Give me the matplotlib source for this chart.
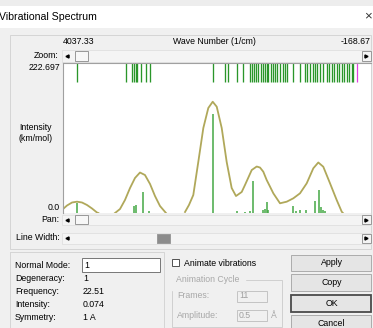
import matplotlib
matplotlib.use('Agg')
import matplotlib.pyplot as plt
from matplotlib.patches import Rectangle
import numpy as np

plt.rcParams['font.family'] = ['Liberation Sans', 'DejaVu Sans']

# spectrum window range
wn_left = 4037.33
wn_right = -168.67
int_max = 222.697

# all mode frequencies shown in the top tick band (1/cm)
mode_wn = [3850, 3181, 3091, 3068, 3045, 3031, 2972, 2908, 2849, 1993,
           1825, 1780, 1665, 1575, 1484, 1461, 1429, 1402, 1370, 1338,
           1310, 1279, 1256, 1234, 1201, 1174, 1142, 1111, 1074, 1037,
           1006, 983, 893, 801, 733, 701, 665, 628, 596, 565, 528, 491,
           437, 401, 368, 337, 300, 264, 232, 200, 163, 128, 95, 73]
selected_wn = 22.51

# stick spectrum (1/cm, km/mol)
stick_wn = [3842, 3068, 3047, 2941, 2859, 1993, 1657, 1552, 1484, 1447,
            1302, 1279, 1256, 1234, 892, 856, 801, 719, 596, 537, 514,
            483, 453]
stick_int = [15.5, 11.0, 12.0, 31.6, 3.0, 146.5, 3.0, 2.0, 3.0, 47.5,
             4.0, 6.0, 16.8, 4.0, 10.4, 3.0, 4.0, 4.0, 18.3, 34.1, 9.4,
             5.0, 3.0]

# broadened curve, nan marks where it drops under the baseline
curve_wn = [4037, 3983, 3914, 3846, 3778, 3710, 3641, 3573, 3555, np.nan,
            3327, 3259, 3191, 3122, 3054, 2986, 2918, 2849, 2781, 2713, 2631, np.nan,
            2371, 2317, 2258, 2190, 2121, 2053, 1993, 1938, 1870, 1802,
            1734, 1675, 1597, 1552, 1460, 1392, 1347, 1302, 1256, 1211,
            1165, 1074, 982, 892, 801, 709, 619, 551, 483, 391, 300, 231, 215]
curve_int = [5.9, 11.1, 15.6, 16.8, 15.6, 11.9, 6.7, 0.7, 0.0, np.nan,
             0.0, 5.9, 19.3, 37.1, 52.0, 60.1, 56.4, 43.1, 25.2, 10.4, 0.0, np.nan,
             1.5, 11.9, 26.7, 75.7, 126.2, 155.9, 165.2, 157.8, 126.2, 75.7,
             37.1, 25.2, 31.2, 41.6, 63.8, 69.0, 67.5, 61.3, 49.0, 39.3,
             29.2, 14.4, 16.8, 21.8, 29.2, 44.1, 66.4, 75.0, 68.7, 44.1, 19.3, 1.9, 0.0]

# dialog fields
info_labels = ['Normal Mode:', 'Degeneracy:', 'Frequency:', 'Intensity:', 'Symmetry:']
info_values = ['1', '1', '22.51', '0.074', '1 A']
buttons = ['Apply', 'Copy', 'OK', 'Cancel']

W, H = 373, 328
BG = '#f0f0f0'
FS = 6.3

fig = plt.figure(figsize=(W / 100, H / 100), dpi=100, facecolor=BG)
gui = fig.add_axes([0, 0, 1, 1])
gui.set_xlim(0, W)
gui.set_ylim(H, 0)
gui.axis('off')


def rect(x0, y0, x1, y1, fc='none', ec='none', lw=0.72, z=1):
    gui.add_patch(Rectangle((x0, y0), x1 - x0, y1 - y0, facecolor=fc,
                            edgecolor=ec, lw=lw, zorder=z))


def scrollbar(y0, y1, t0, t1, thumb_fc):
    rect(62, y0, 371, y1, fc='#f4f4f4', ec='#e2e2e2')
    gui.plot([66.5], [(y0 + y1) / 2], marker='<', ms=2.2, color='black', zorder=3)
    rect(t0, y0 + 0.5, t1, y1 - 0.5, fc=thumb_fc, ec='#9a9a9a', z=2)
    rect(362, y0 + 0.5, 370.5, y1 - 0.5, fc='#f4f4f4', ec='#9a9a9a', z=2)
    gui.plot([366], [(y0 + y1) / 2], marker='>', ms=2.2, color='black', zorder=3)


# title bar
rect(0, 0, W, 6, fc='#ededed')
rect(0, 6, W, 28, fc='white')
gui.text(-1, 17, 'Vibrational Spectrum', fontsize=7.6, va='center', ha='left')
gui.text(368, 16.5, '\u00d7', fontsize=9.5, va='center', ha='center', color='#333333')

# upper group
rect(10, 35, 371, 248.5, ec='#d5d5d5')
gui.text(62.5, 41, '4037.33', fontsize=FS, va='center', ha='left')
gui.text(214, 41, 'Wave Number (1/cm)', fontsize=FS, va='center', ha='center')
gui.text(371, 41, '-168.67', fontsize=FS, va='center', ha='right')
gui.text(59, 55.5, 'Zoom:', fontsize=FS, va='center', ha='right')
scrollbar(50, 61.5, 75, 88, '#f7f7f7')
gui.text(60, 67, '222.697', fontsize=FS, va='center', ha='right')
gui.text(36, 133, 'Intensity\n(km/mol)', fontsize=FS, va='center', ha='center',
         linespacing=1.25)
gui.text(60, 207, '0.0', fontsize=FS, va='center', ha='right')
gui.text(59, 219.5, 'Pan:', fontsize=FS, va='center', ha='right')
scrollbar(214.5, 224.5, 75, 88, '#f7f7f7')
gui.text(60, 238, 'Line Width:', fontsize=FS, va='center', ha='right')
scrollbar(233, 243.5, 157, 170, '#8c8c8c')

# lower left group
rect(10, 252, 163.5, 331, ec='#d5d5d5')
rect(82, 258, 160, 272, fc='white', ec='#7a7a7a')
for i, (lab, val) in enumerate(zip(info_labels, info_values)):
    y = 265.5 + i * 13.1
    gui.text(15, y, lab, fontsize=FS, va='center', ha='left')
    gui.text(84 if i == 0 else 83, y, val, fontsize=FS, va='center', ha='left')

# animation controls
rect(171.5, 259, 178.5, 266, fc='white', ec='#555555')
gui.text(184, 263.5, 'Animate vibrations', fontsize=FS, va='center', ha='left')
rect(172, 279.5, 282, 327, ec='#d0d0d0')
gui.text(176, 279.5, 'Animation Cycle', fontsize=FS, va='center', ha='left',
         color='#a8a8a8', backgroundcolor=BG)
gui.text(177, 296, 'Frames:', fontsize=FS, va='center', ha='left', color='#a8a8a8')
rect(237, 291, 267, 302, fc=BG, ec='#c4c4c4')
gui.text(239, 296, '11', fontsize=FS, va='center', ha='left', color='#a0a0a0')
gui.text(177, 315.5, 'Amplitude:', fontsize=FS, va='center', ha='left', color='#a8a8a8')
rect(237, 310, 267, 321, fc=BG, ec='#c4c4c4')
gui.text(239, 315.5, '0.5', fontsize=FS, va='center', ha='left', color='#a0a0a0')
gui.text(274, 316, '\u00c5', fontsize=FS, va='center', ha='center', color='#a8a8a8')

# buttons
btn_y = [(254.5, 271), (274, 290.5), (294.5, 312), (315, 332)]
for name, (y0, y1) in zip(buttons, btn_y):
    ok = name == 'OK'
    rect(291, y0, 371, y1, fc='#e5e5e5', ec='#4a4a4a' if ok else '#adadad',
         lw=1.3 if ok else 0.72)
    gui.text(331.5, min((y0 + y1) / 2, 324), name, fontsize=FS, va='center', ha='center')

# spectrum plot
x0, x1, yb, yt = 63, 371, 213, 63
ax = fig.add_axes([x0 / W, 1 - yb / H, (x1 - x0) / W, (yb - yt) / H], zorder=5)
ax.set_facecolor('white')
ax.set_xlim(wn_left, wn_right)
ax.set_ylim(0, int_max)
ax.set_xticks([])
ax.set_yticks([])
for side in ['right', 'bottom']:
    ax.spines[side].set_visible(False)
for side in ['left', 'top']:
    ax.spines[side].set_color('#a0a0a0')
    ax.spines[side].set_linewidth(0.8)

band_low = int_max * (1 - 19 / 150)
ax.vlines(mode_wn, band_low, int_max, color='#2a962a', lw=0.95)
ax.vlines([selected_wn], band_low, int_max, color='#e040e0', lw=0.9)
ax.vlines(stick_wn, 0, stick_int, color='#45a845', lw=1.1)
ax.plot(curve_wn, curve_int, color='#b0a85a', lw=1.3)

fig.savefig('out.png', dpi=100, facecolor=BG)
